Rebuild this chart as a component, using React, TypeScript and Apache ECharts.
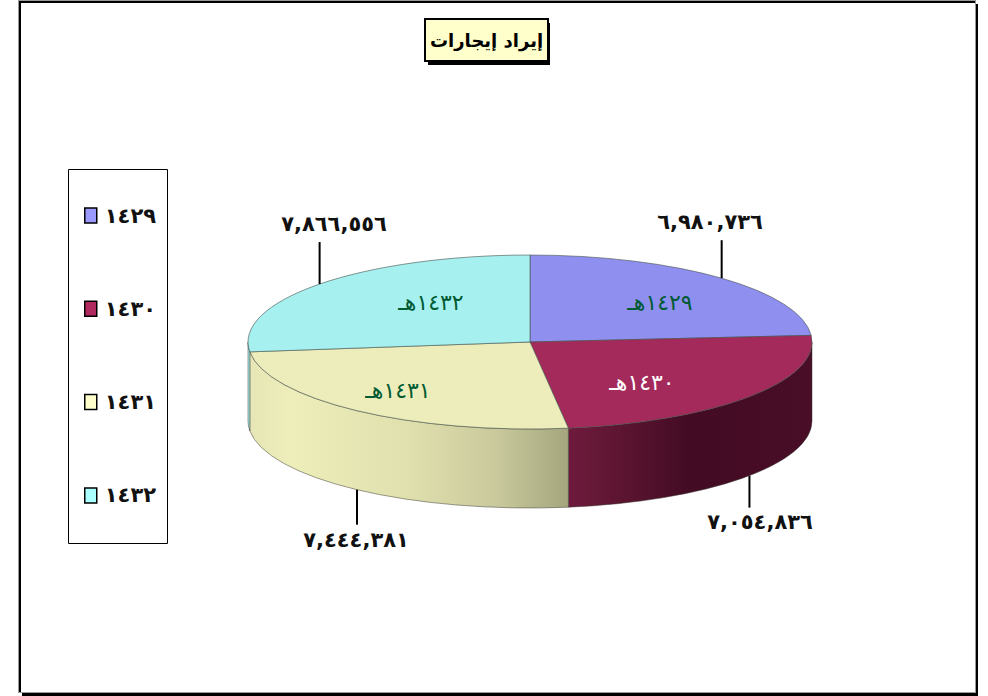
import React, { useEffect, useRef } from "react";
import * as echarts from "echarts";

const titleText = "إيراد إيجارات";
const years = ["١٤٢٩", "١٤٣٠", "١٤٣١", "١٤٣٢"];
const faceLabels = ["١٤٢٩هـ", "١٤٣٠هـ", "١٤٣١هـ", "١٤٣٢هـ"];
const values = [6980736, 7054836, 7444381, 7866556];
const valueLabels = ["٦,٩٨٠,٧٣٦", "٧,٠٥٤,٨٣٦", "٧,٤٤٤,٣٨١", "٧,٨٦٦,٥٥٦"];

const faceColors = ["#8F8FF0", "#A52A5C", "#EDEDBB", "#A6F0F0"];
const legendColors = ["#9999FF", "#B02A60", "#FFFFCC", "#AAFFFF"];
const faceTextColors = ["#005A32", "#FFFFFF", "#005A32", "#005A32"];
const sideStops = [
  [[0, "#6C6CB8"], [1, "#6C6CB8"]],
  [[0, "#6E1A3E"], [0.12, "#651835"], [0.5, "#430B24"], [1, "#490D27"]],
  [[0, "#E6E6B6"], [0.13, "#EEEEBB"], [0.5, "#E0E0AE"], [0.78, "#C8C89C"], [1, "#A6A67E"]],
  [[0, "#A6F0F0"], [1, "#A6F0F0"]],
];

const CX = 530, CY = 342, RX = 282, RY = 87, DEPTH = 79;
const faceLabelPos = [[660, 302], [642, 382], [398, 390], [431, 302]];
const leaderLen = [38, 32, 35, 42];
const valueLabelPos = [[710, 222], [760, 522], [356, 540], [334, 224]];

const total = values.reduce((a, b) => a + b, 0);
const rad = (d: number) => (d * Math.PI) / 180;
const pt = (a: number, dy = 0): [number, number] => [
  CX + RX * Math.sin(rad(a)),
  CY - RY * Math.cos(rad(a)) + dy,
];
const f = (n: number) => n.toFixed(2);

function bounds(i: number) {
  let acc = 0;
  for (let k = 0; k < i; k++) acc += values[k];
  return [(acc / total) * 360, ((acc + values[i]) / total) * 360];
}

function topPath(a0: number, a1: number) {
  const p0 = pt(a0), p1 = pt(a1);
  const large = a1 - a0 > 180 ? 1 : 0;
  return `M${CX} ${CY}L${f(p0[0])} ${f(p0[1])}A${RX} ${RY} 0 ${large} 1 ${f(p1[0])} ${f(p1[1])}Z`;
}

function sidePath(a0: number, a1: number) {
  const s = Math.max(a0, 90), e = Math.min(a1, 270);
  if (e <= s) return null;
  const p0 = pt(s), p1 = pt(e), q1 = pt(e, DEPTH), q0 = pt(s, DEPTH);
  return `M${f(p0[0])} ${f(p0[1])}A${RX} ${RY} 0 0 1 ${f(p1[0])} ${f(p1[1])}L${f(q1[0])} ${f(q1[1])}A${RX} ${RY} 0 0 0 ${f(q0[0])} ${f(q0[1])}Z`;
}

function makeRender(i: number) {
  return () => {
    const [a0, a1] = bounds(i);
    const mid = (a0 + a1) / 2;
    const front = mid > 90 && mid < 270;
    const m = pt(mid, front ? DEPTH : 0);
    const lineEnd = m[1] + (front ? leaderLen[i] : -leaderLen[i]);
    const children: any[] = [];
    const side = sidePath(a0, a1);
    if (side) {
      children.push({
        type: "path",
        shape: { pathData: side },
        style: {
          fill: {
            type: "linear", x: 0, y: 0, x2: 1, y2: 0,
            colorStops: sideStops[i].map(([offset, color]) => ({ offset, color })),
          },
          stroke: "#3A3A30",
          lineWidth: 0.5,
        },
      });
    }
    children.push({
      type: "path",
      shape: { pathData: topPath(a0, a1) },
      style: { fill: faceColors[i], stroke: "#44504A", lineWidth: 0.6 },
    });
    children.push({
      type: "line",
      shape: { x1: m[0], y1: m[1], x2: m[0], y2: lineEnd },
      style: { stroke: "#000", lineWidth: 2 },
    });
    children.push({
      type: "text",
      style: {
        x: faceLabelPos[i][0], y: faceLabelPos[i][1], text: faceLabels[i],
        fill: faceTextColors[i], align: "center", verticalAlign: "middle",
        font: '22px "DejaVu Sans"',
      },
    });
    children.push({
      type: "text",
      style: {
        x: valueLabelPos[i][0], y: valueLabelPos[i][1], text: valueLabels[i],
        fill: "#111", align: "center", verticalAlign: "middle",
        font: 'bold 21px "DejaVu Sans"',
      },
    });
    return { type: "group", children };
  };
}

export default function App() {
  const ref = useRef<HTMLDivElement>(null);
  useEffect(() => {
    const chart = echarts.init(ref.current!, null, { renderer: "svg" });
    chart.setOption({
      animation: false,
      backgroundColor: "#fff",
      title: {
        text: titleText,
        left: 425,
        top: 19,
        padding: [9, 5, 9, 5],
        backgroundColor: "#FFFFCC",
        borderColor: "#000",
        borderWidth: 2,
        textStyle: { fontFamily: '"DejaVu Sans"', fontWeight: "bold", fontSize: 18, color: "#000", lineHeight: 24 },
      },
      legend: {
        orient: "vertical",
        left: 84,
        top: 205,
        itemWidth: 12,
        itemHeight: 15,
        itemGap: 72.3,
        icon: "rect",
        padding: 0,
        textStyle: { fontFamily: '"DejaVu Sans"', fontWeight: "bold", fontSize: 21, color: "#111", padding: [0, 0, 0, 3] },
        selectedMode: false,
        data: years.map((name, i) => ({
          name,
          itemStyle: { color: legendColors[i], borderColor: "#000", borderWidth: 1.5 },
        })),
      },
      graphic: [
        { type: "rect", z: -13, shape: { x: 22, y: 4, width: 956, height: 692 }, style: { fill: "#000" } },
        { type: "rect", z: -12, shape: { x: 18, y: 0, width: 958, height: 693 }, style: { fill: "#999" } },
        { type: "rect", z: -11, shape: { x: 19, y: 1, width: 956, height: 691 }, style: { fill: "#000" } },
        { type: "rect", z: -10, shape: { x: 21, y: 3, width: 954, height: 689 }, style: { fill: "#fff" } },
        { type: "rect", z: -8, shape: { x: 68.5, y: 169.5, width: 99, height: 374 }, style: { fill: "#fff", stroke: "#000", lineWidth: 1 } },
        { type: "rect", z: -8, shape: { x: 428, y: 23, width: 122, height: 42 }, style: { fill: "#000" } },
      ],
      series: years.map((name, i) => ({
        type: "custom",
        name,
        coordinateSystem: "none",
        silent: true,
        itemStyle: { color: legendColors[i] },
        data: [{ name, value: values[i] }],
        renderItem: makeRender(i),
      })),
    });
    return () => chart.dispose();
  }, []);
  return <div ref={ref} style={{ position: "absolute", left: 0, top: 0, width: 988, height: 696 }} />;
}
